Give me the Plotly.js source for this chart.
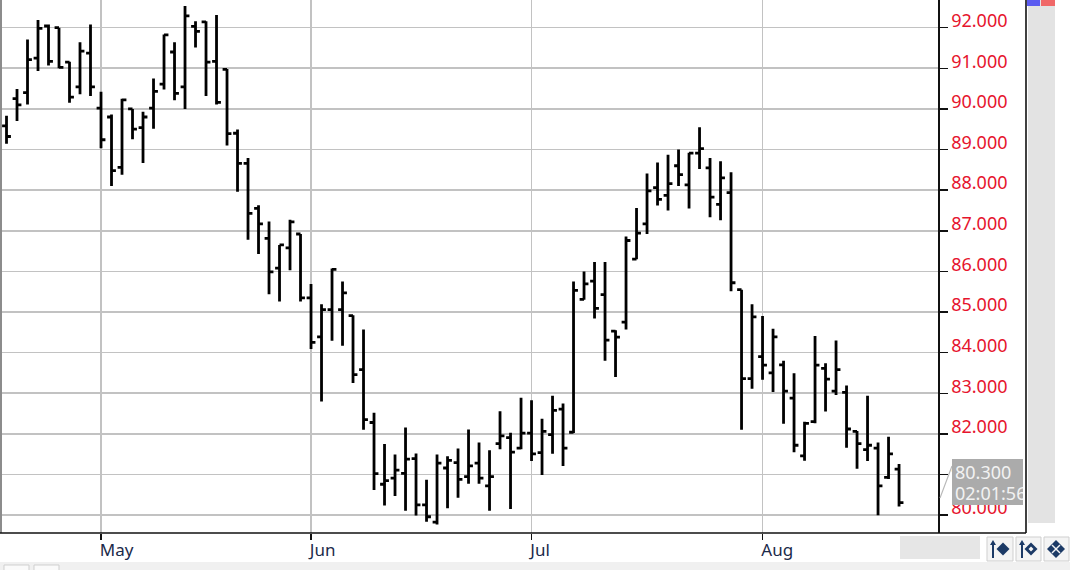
<!DOCTYPE html>
<html><head><meta charset="utf-8">
<script src="https://cdn.plot.ly/plotly-3.0.1.min.js"></script>
<style>html,body{margin:0;padding:0;background:#fff;overflow:hidden}#c{width:1070px;height:570px}</style>
</head><body><div id="c"></div>
<script>
const openVals=[89.58,90.25,90.4,91.25,92.04,92.0,91.15,90.54,91.37,90.02,89.8,88.56,90.0,89.54,90.02,90.61,91.4,90.54,92.03,92.14,91.17,90.97,89.4,88.66,87.55,86.81,86.08,86.58,86.92,85.35,84.39,85.06,85.06,84.91,83.58,82.28,80.76,80.91,81.03,81.39,80.25,79.83,81.16,81.29,80.95,81.28,80.72,81.76,81.91,81.65,82.02,81.54,81.98,82.61,82.04,85.31,85.76,85.43,84.53,84.75,86.3,87.17,88.06,87.87,88.6,88.13,88.91,88.55,87.65,87.94,85.55,83.36,83.9,83.5,83.7,82.88,81.46,82.3,83.61,83.05,83.02,82.06,81.61,81.65,80.93,81.13];
const highVals=[89.83,90.49,91.71,92.19,92.08,92.0,91.16,91.64,92.08,90.42,89.86,90.25,90.0,89.93,90.75,91.83,91.64,92.53,92.16,92.16,92.31,90.98,89.49,88.79,87.63,87.23,86.65,87.27,86.92,85.69,85.19,86.07,85.75,84.92,84.57,82.52,81.75,81.49,82.16,81.52,80.87,81.49,81.45,81.64,82.11,81.79,81.6,82.56,82.03,82.89,82.83,82.37,82.94,82.75,85.75,86.0,86.23,86.23,84.55,86.86,87.56,88.41,88.68,88.87,89.0,88.92,89.55,88.79,88.71,88.44,85.55,85.19,84.9,84.59,83.8,83.49,82.3,84.41,83.74,84.3,83.19,82.07,82.94,81.79,81.93,81.26];
const lowVals=[89.14,89.7,90.11,90.93,91.07,91.0,90.15,90.36,90.32,89.03,88.1,88.38,89.25,88.67,89.51,90.48,90.21,90.0,91.51,90.32,90.11,89.1,87.96,86.78,86.43,85.44,85.26,86.03,85.26,84.09,82.8,84.29,84.17,83.25,82.1,80.62,80.24,80.47,80.11,79.99,79.84,79.77,80.17,80.43,80.77,80.77,80.11,81.62,80.15,81.62,81.33,80.99,81.51,81.21,82.02,85.3,84.84,83.8,83.4,84.57,86.3,86.92,87.62,87.5,88.1,87.55,88.52,87.33,87.26,85.51,82.1,83.11,83.33,83.03,82.25,81.55,81.34,82.26,82.55,82.96,81.66,81.14,81.33,80.0,80.89,80.21];
const closeVals=[89.32,90.1,91.21,91.98,91.17,91.02,90.29,91.42,90.54,89.24,88.48,90.22,89.5,89.8,90.43,91.82,90.38,92.29,91.91,91.15,90.16,89.39,88.66,87.43,87.17,85.99,86.65,87.22,85.35,84.25,85.06,86.05,85.47,83.46,82.35,81.02,80.85,81.11,81.38,80.25,79.96,81.28,81.35,80.88,81.21,80.91,80.95,81.95,81.55,82.02,81.51,82.06,82.58,81.65,85.53,85.69,85.09,84.31,84.38,86.76,86.94,87.98,87.77,88.16,88.38,88.91,89.02,87.83,88.3,85.72,83.36,84.88,83.69,84.39,83.05,81.72,82.26,83.69,83.35,83.58,82.12,81.76,81.72,80.72,81.51,80.31];
const monthPositions=[9,29,50,72];
const monthLabels=["May","Jun","Jul","Aug"];
const priceTicks=[80,81,82,83,84,85,86,87,88,89,90,91,92];
const lastPriceLabel="80.300";
const countdownLabel="02:01:56";

const W=938,H=533;
const px=x=>x/W, py=y=>1-y/H;
const rect=(x0,y0,x1,y1,fill,line,lw)=>({type:'rect',xref:'paper',yref:'paper',x0:px(x0),x1:px(x1),y0:py(y0),y1:py(y1),fillcolor:fill,line:{color:line||fill,width:line?(lw||1):0},layer:'above'});
const seg=(x0,y0,x1,y1,c,w)=>({type:'line',xref:'paper',yref:'paper',x0:px(x0),x1:px(x1),y0:py(y0),y1:py(y1),line:{color:c,width:w},layer:'above'});
const poly=(pts,fill)=>({type:'path',xref:'paper',yref:'paper',path:'M'+pts.map(p=>px(p[0])+','+py(p[1])).join(' L')+' Z',fillcolor:fill,line:{color:fill,width:0},layer:'above'});
const diamond=(cx,cy,r,fill)=>poly([[cx,cy-r],[cx+r,cy],[cx,cy+r],[cx-r,cy]],fill);
const navy='#1c3a66';
const shapes=[
 seg(1,0,1,533,'#8c8c8c',2),
 seg(0,533,1026,533,'#111',1.6),
 seg(1026,0,1026,533,'#111',1.6),
 rect(1028,0,1055,523,'#e3e3e3'),
 rect(1027,0,1040,6,'#5b5bf0'),
 rect(1041,0,1055,6,'#f06868'),
 rect(900,536,980,559,'#e6e6e6'),
 rect(0,562,1070,570,'#f0f0f0'),
 rect(4,565,29,572,'#fafafa','#cfcfcf',1),
 rect(34,565,59,572,'#fafafa','#cfcfcf',1),
 rect(987,537,1013,561,'#f4f4f4','#cfcfcf',1),
 rect(1016,537,1041,561,'#f4f4f4','#cfcfcf',1),
 rect(1044,537,1069,561,'#f4f4f4','#cfcfcf',1),
 seg(993,542,993,558,navy,2),
 poly([[990,545],[993,540],[996,545]],navy),
 diamond(1003,549,6.5,navy),
 seg(1022,542,1022,558,navy,2),
 poly([[1019,545],[1022,540],[1025,545]],navy),
 diamond(1031,549,6.5,navy),
 diamond(1031,549,2.5,'#f4f4f4'),
 diamond(1056,549,9,navy),
 seg(1052,545,1060,553,'#f4f4f4',1.5),
 seg(1060,545,1052,553,'#f4f4f4',1.5),
 seg(940,498,952,466,'#b8b8b8',1.2),
 rect(952,459,1023,505,'#ababab')
];
const trace={type:'ohlc',x:openVals.map((_,i)=>i),open:openVals,high:highVals,low:lowVals,close:closeVals,
 increasing:{line:{color:'#000',width:2.8}},decreasing:{line:{color:'#000',width:2.8}},tickwidth:0.42,hoverinfo:'skip'};
const boxFont={family:'"Noto Sans",sans-serif',size:18,color:'#f2f2f2'};
const layout={width:1070,height:570,margin:{l:0,r:132,t:0,b:37,pad:0},paper_bgcolor:'#fff',plot_bgcolor:'#fff',showlegend:false,
 xaxis:{range:[-0.62,88.71],rangeslider:{visible:false},tickmode:'array',tickvals:monthPositions,ticktext:monthLabels,ticks:'outside',ticklen:6,tickwidth:1.5,tickcolor:'#111',
  ticklabelposition:'outside right',ticklabelstandoff:2,ticklabelshift:-2,tickfont:{family:'"Noto Sans",sans-serif',size:17,color:'#1b2a4a'},showgrid:true,gridcolor:'#c2c2c2',gridwidth:1.6,zeroline:false,showline:false},
 yaxis:{side:'right',range:[79.56,92.68],tickmode:'array',tickvals:priceTicks,ticktext:priceTicks.map(v=>v.toFixed(3)),ticks:'outside',ticklen:8,tickwidth:1.5,tickcolor:'#111',ticklabelshift:-7,
  tickfont:{family:'"Noto Sans",sans-serif',size:18,color:'#e6142d'},showgrid:true,gridcolor:'#c2c2c2',gridwidth:1.6,zeroline:false,showline:true,linecolor:'#111',linewidth:1.6},
 shapes:shapes,
 annotations:[
  {xref:'paper',yref:'paper',x:px(955),y:py(460.5),xanchor:'left',yanchor:'top',showarrow:false,align:'left',width:68,height:21,borderwidth:0,borderpad:0,text:lastPriceLabel,font:boxFont},
  {xref:'paper',yref:'paper',x:px(955),y:py(481.5),xanchor:'left',yanchor:'top',showarrow:false,align:'left',width:68,height:21,borderwidth:0,borderpad:0,text:countdownLabel,font:boxFont}
 ]
};
Plotly.newPlot('c',[trace],layout,{displayModeBar:false,staticPlot:true});
</script></body></html>
